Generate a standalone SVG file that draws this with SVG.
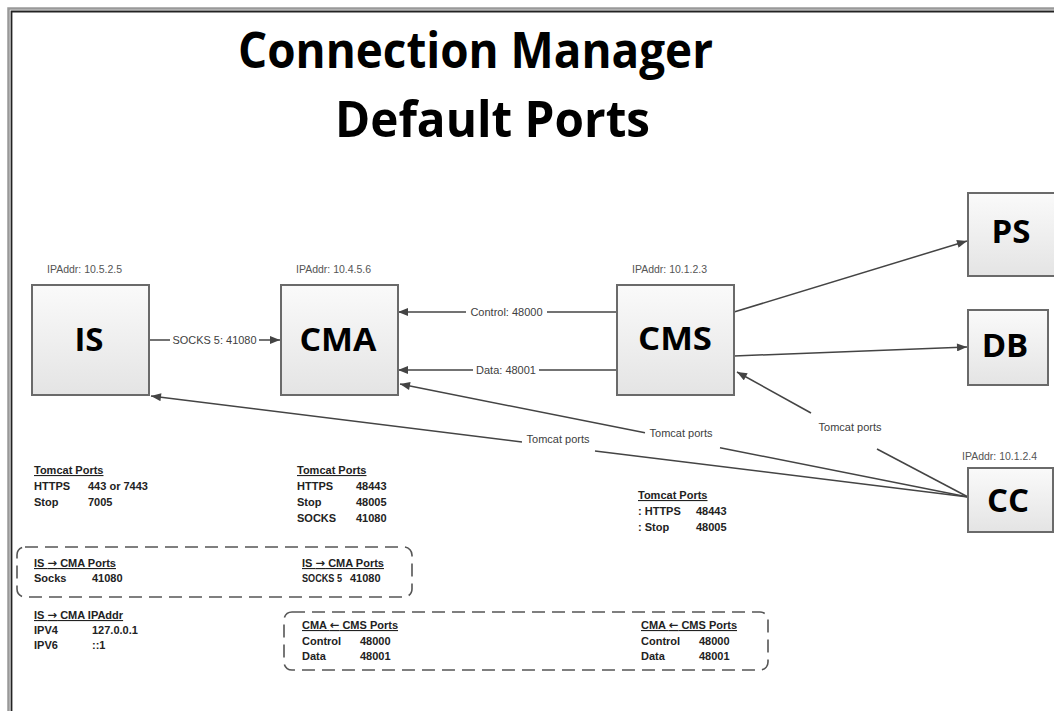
<svg xmlns="http://www.w3.org/2000/svg" width="1054" height="711" viewBox="0 0 1054 711">
<defs>
<linearGradient id="g" x1="0" y1="0" x2="0" y2="1">
<stop offset="0" stop-color="#fafafa"/>
<stop offset="1" stop-color="#e4e4e4"/>
</linearGradient>
<marker id="arr" viewBox="0 0 10 8" refX="10" refY="4" markerWidth="11" markerHeight="8" orient="auto" markerUnits="userSpaceOnUse">
<path d="M0,0 L10,4 L0,8 z" fill="#444"/>
</marker>
</defs>
<style>
.box{fill:url(#g);stroke:#6a6a6a;stroke-width:2}
.nl{font-family:"Open Sans","Liberation Sans",sans-serif;font-weight:700;font-size:33px;fill:#000;text-anchor:middle}
.ip{font-family:"Liberation Sans",Arial,sans-serif;font-size:10.5px;fill:#555}
.ln{fill:none;stroke:#444;stroke-width:1.5}
.lb{font-family:"Liberation Sans",Arial,sans-serif;font-size:11px;fill:#404040;text-anchor:middle}
.tb{font-family:"Liberation Sans",Arial,sans-serif;font-size:11px;font-weight:700;fill:#222}
.hd{text-decoration:underline}
.ar{font-family:"DejaVu Sans",sans-serif;font-weight:700;font-size:11.5px}
.dash{fill:none;stroke:#555;stroke-width:1.6;stroke-dasharray:13 7}
.title{font-family:"Open Sans","Liberation Sans",sans-serif;font-weight:700;font-size:50px;fill:#000}
</style>
<rect width="1054" height="711" fill="#fff"/>
<g id="frame">
<path d="M8.5,711 V8.5 H1054" fill="none" stroke="#999" stroke-width="2.5"/>
<path d="M11.5,711 V11.5 H1054" fill="none" stroke="#222" stroke-width="1.8"/>
</g>
<g id="title">
<text class="title" x="238" y="68" textLength="475" lengthAdjust="spacingAndGlyphs">Connection Manager</text>
<text class="title" x="335" y="137" textLength="315" lengthAdjust="spacingAndGlyphs">Default Ports</text>
</g>
<g id="connectors">
<path class="ln" d="M149,340 H170"/>
<path class="ln" d="M259,340 H280" marker-end="url(#arr)"/>
<text class="lb" x="214.5" y="344" textLength="84" lengthAdjust="spacingAndGlyphs">SOCKS 5: 41080</text>
<path class="ln" d="M617,312 H547"/>
<path class="ln" d="M466,312 H398" marker-end="url(#arr)"/>
<text class="lb" x="506.5" y="316">Control: 48000</text>
<path class="ln" d="M617,370 H539"/>
<path class="ln" d="M473,370 H398" marker-end="url(#arr)"/>
<text class="lb" x="506" y="374">Data: 48001</text>
<path class="ln" d="M734,312 L967,241" marker-end="url(#arr)"/>
<path class="ln" d="M734,356 L967,347" marker-end="url(#arr)"/>
<path class="ln" d="M968,497 L877,449"/>
<path class="ln" d="M811,413 L737,372" marker-end="url(#arr)"/>
<text class="lb" x="850" y="431">Tomcat ports</text>
<path class="ln" d="M968,497 L720,447.7"/>
<path class="ln" d="M645,432.8 L400,384" marker-end="url(#arr)"/>
<text class="lb" x="681" y="437">Tomcat ports</text>
<path class="ln" d="M968,497 L595,450.9"/>
<path class="ln" d="M522,441.9 L151,396" marker-end="url(#arr)"/>
<text class="lb" x="558" y="443">Tomcat ports</text>
</g>
<g id="IS">
<text class="ip" x="47" y="273">IPAddr: 10.5.2.5</text>
<rect class="box" x="32" y="285" width="117" height="110"/>
<text class="nl" x="89" y="351">IS</text>
</g>
<g id="CMA">
<text class="ip" x="296" y="273">IPAddr: 10.4.5.6</text>
<rect class="box" x="281" y="285" width="117" height="110"/>
<text class="nl" x="338" y="351" textLength="77" lengthAdjust="spacingAndGlyphs">CMA</text>
</g>
<g id="CMS">
<text class="ip" x="632" y="273">IPAddr: 10.1.2.3</text>
<rect class="box" x="617" y="285" width="117" height="110"/>
<text class="nl" x="675" y="350" textLength="74" lengthAdjust="spacingAndGlyphs">CMS</text>
</g>
<g id="PS">
<rect class="box" x="968" y="193" width="100" height="83"/>
<text class="nl" x="1011" y="243">PS</text>
</g>
<g id="DB">
<rect class="box" x="968" y="310" width="80" height="75"/>
<text class="nl" x="1005" y="357">DB</text>
</g>
<g id="CC">
<text class="ip" x="962" y="460">IPAddr: 10.1.2.4</text>
<rect class="box" x="968" y="468" width="85" height="64"/>
<text class="nl" x="1008" y="512">CC</text>
</g>
<g id="is-tomcat">
<text class="tb hd" x="34" y="474">Tomcat Ports</text>
<text class="tb" x="34" y="490">HTTPS</text><text class="tb" x="88" y="490">443 or 7443</text>
<text class="tb" x="34" y="506">Stop</text><text class="tb" x="88" y="506">7005</text>
</g>
<g id="cma-tomcat">
<text class="tb hd" x="297" y="474">Tomcat Ports</text>
<text class="tb" x="297" y="490">HTTPS</text><text class="tb" x="356" y="490">48443</text>
<text class="tb" x="297" y="506">Stop</text><text class="tb" x="356" y="506">48005</text>
<text class="tb" x="297" y="522">SOCKS</text><text class="tb" x="356" y="522">41080</text>
</g>
<g id="cc-tomcat">
<text class="tb hd" x="638" y="499">Tomcat Ports</text>
<text class="tb" x="638" y="515">: HTTPS</text><text class="tb" x="696" y="515">48443</text>
<text class="tb" x="638" y="531">: Stop</text><text class="tb" x="696" y="531">48005</text>
</g>
<g id="is-cma-ports">
<rect class="dash" x="17" y="547" width="395" height="50" rx="8"/>
<text class="tb hd" x="34" y="567">IS <tspan class="ar">→</tspan> CMA Ports</text>
<text class="tb" x="34" y="582">Socks</text><text class="tb" x="92" y="582">41080</text>
<text class="tb hd" x="302" y="567">IS <tspan class="ar">→</tspan> CMA  Ports</text>
<text class="tb" x="302" y="582" textLength="40" lengthAdjust="spacingAndGlyphs">SOCKS 5</text><text class="tb" x="350" y="582">41080</text>
</g>
<g id="is-cma-ipaddr">
<text class="tb hd" x="34" y="619">IS <tspan class="ar">→</tspan> CMA IPAddr</text>
<text class="tb" x="34" y="634">IPV4</text><text class="tb" x="92" y="634">127.0.0.1</text>
<text class="tb" x="34" y="649">IPV6</text><text class="tb" x="92" y="649">::1</text>
</g>
<g id="cma-cms-ports">
<rect class="dash" x="284" y="612" width="484" height="58" rx="8"/>
<text class="tb hd" x="302" y="629">CMA <tspan class="ar">←</tspan> CMS  Ports</text>
<text class="tb" x="302" y="645">Control</text><text class="tb" x="360" y="645">48000</text>
<text class="tb" x="302" y="660">Data</text><text class="tb" x="360" y="660">48001</text>
<text class="tb hd" x="641" y="629">CMA <tspan class="ar">←</tspan> CMS  Ports</text>
<text class="tb" x="641" y="645">Control</text><text class="tb" x="699" y="645">48000</text>
<text class="tb" x="641" y="660">Data</text><text class="tb" x="699" y="660">48001</text>
</g>
</svg>
